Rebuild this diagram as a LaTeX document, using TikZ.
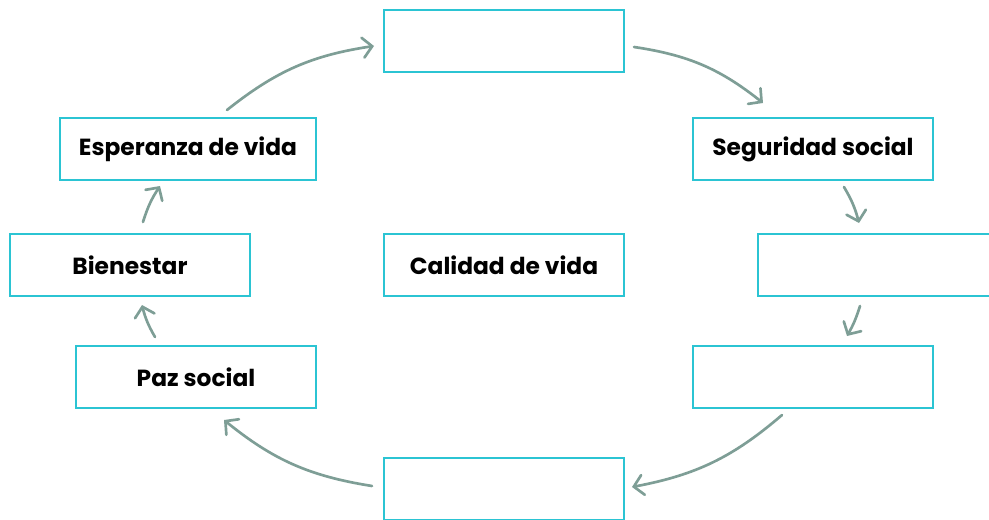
\documentclass[tikz,border=0pt]{standalone}
\usepackage{fontspec}
\setmainfont{Poppins}
\usetikzlibrary{arrows.meta,calc}
\definecolor{bordecaja}{RGB}{43,196,211}
\definecolor{grisflecha}{RGB}{126,158,150}

\begin{document}
\begin{tikzpicture}[x=0.75pt,y=0.75pt,
    caja/.style={draw=bordecaja,line width=1.5pt,minimum width=180pt,minimum height=46.5pt,inner xsep=14pt,inner ysep=4pt,font=\fontsize{17.5}{20}\selectfont\bfseries},
    flecha/.style={draw=grisflecha,line width=2pt,line cap=round,-{Straight Barb[length=7pt,width=15pt,line cap=round]}}]
        \useasboundingbox (0,0) rectangle (989,519);
        \clip (0,0) rectangle (989,519);

        \node[caja] (top) at (504,478) {};
        \node[caja] (seg) at (813,370) {Seguridad social};
        \node[caja] (rmid) at (878,254) {};
        \node[caja] (rlow) at (813,142) {};
        \node[caja] (bot) at (504,30) {};
        \node[caja] (paz) at (196,142) {Paz social};
        \node[caja] (bien) at (130,254) {Bienestar};
        \node[caja] (esp) at (188,370) {Esperanza de vida};
        \node[caja] (cal) at (504,254) {Calidad de vida};

        \draw[flecha] ($(esp.north)+(39,7)$) to[bend left=15] ($(top.west)+(-9,-5)$);
        \draw[flecha] ($(top.east)+(9,-6)$) to[bend left=15] ($(seg.north)+(-50,14)$);
        \draw[flecha] ($(seg.south)+(31,-6)$) to[bend left=8] ($(rmid.north)+(-19,10)$);
        \draw[flecha] ($(rmid.south)+(-18,-9)$) to[bend left=6] ($(rlow.north)+(34,9)$);
        \draw[flecha] ($(rlow.south)+(-31,-6)$) to[bend left=15] ($(bot.east)+(7,2)$);
        \draw[flecha] ($(bot.west)+(-11,3)$) to[bend left=15] ($(paz.south)+(28,-11)$);
        \draw[flecha] ($(paz.north)+(-41,8)$) to[bend left=8] ($(bien.south)+(12,-8)$);
        \draw[flecha] ($(bien.north)+(13,11)$) to[bend left=8] ($(esp.south)+(-28,-5)$);
\end{tikzpicture}
\end{document}
